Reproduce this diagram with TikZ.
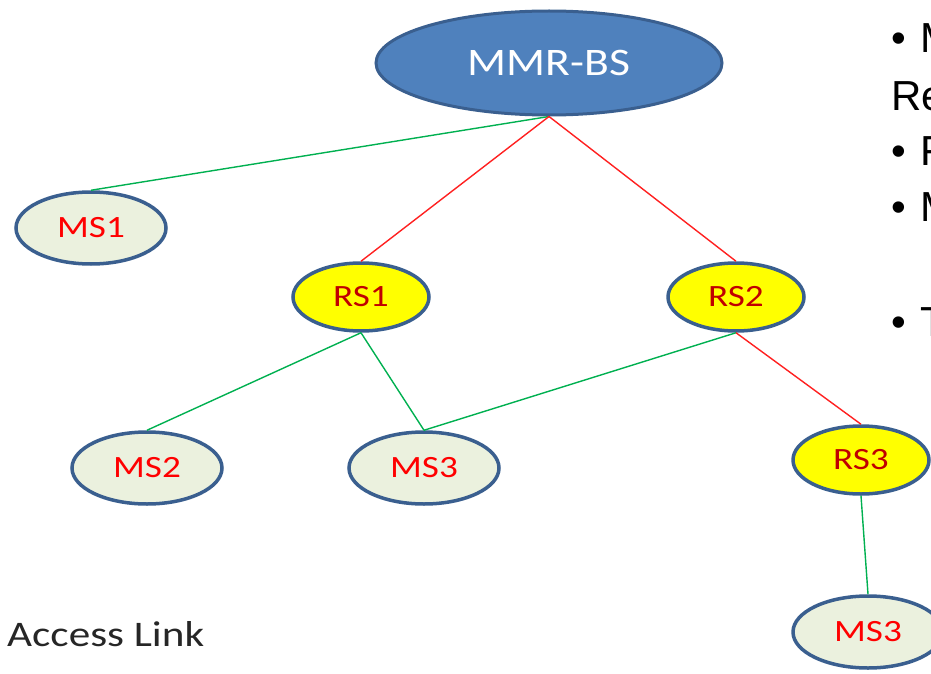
\documentclass[tikz,border=0pt]{standalone}
\usepackage{fontspec}
\setmainfont{Carlito}[FakeStretch=1.2]
\newfontfamily\bsfont{Carlito}[FakeStretch=1.17]
\newfontfamily\arialf{Liberation Sans}
\usetikzlibrary{shapes.geometric}
\definecolor{bsfill}{HTML}{4F81BD}
\definecolor{bsedge}{HTML}{3A5F8F}
\definecolor{msfill}{HTML}{EBF1DE}
\definecolor{rsfill}{HTML}{FFFF00}
\definecolor{rstext}{HTML}{C00000}
\definecolor{lgreen}{HTML}{00B050}
\definecolor{lred}{HTML}{FF2020}
\tikzset{
  base/.style={ellipse, draw=bsedge, line width=3.5pt, inner sep=0pt},
  msnode/.style={base, fill=msfill, minimum width=150pt, minimum height=72pt, text=red, font=\fontsize{31}{33}\selectfont},
  rsnode/.style={base, fill=rsfill, minimum width=136pt, minimum height=68pt, text=rstext, font=\fontsize{31}{33}\selectfont},
  bsnode/.style={ellipse, draw=bsedge, line width=3pt, fill=bsfill, minimum width=346pt, minimum height=104pt, text=white, font=\bsfont\fontsize{39}{41}\selectfont},
  glink/.style={draw=lgreen, line width=1.4pt},
  rlink/.style={draw=lred, line width=1.4pt},
  bullettext/.style={anchor=west, inner sep=0pt, font=\arialf\fontsize{42}{44}\selectfont}
}
\begin{document}
\begin{tikzpicture}[x=1pt,y=-1pt]
\useasboundingbox (0,0) rectangle (931,674);
\clip (0,0) rectangle (931,674);
\node[bsnode] (bs) at (549,63) {MMR-BS};
\node[msnode] (ms1) at (91,228) {MS1};
\node[rsnode] (rs1) at (361,297) {RS1};
\node[rsnode] (rs2) at (736,297) {RS2};
\node[msnode] (ms2) at (147,468) {MS2};
\node[msnode] (ms3) at (424,468) {MS3};
\node[rsnode] (rs3) at (861,460) {RS3};
\node[msnode] (ms3b) at (868,632) {MS3};
\draw[glink] (bs.south) -- (ms1.north);
\draw[rlink] (bs.south) -- (rs1.north);
\draw[rlink] (bs.south) -- (rs2.north);
\draw[glink] (rs1.south) -- (ms2.north);
\draw[glink] (rs1.south) -- (ms3.north);
\draw[glink] (rs2.south) -- (ms3.north);
\draw[rlink] (rs2.south) -- (rs3.north);
\draw[glink] (rs3.south) -- (ms3b.north);
\node[anchor=west, inner sep=0pt, text=black!85, font=\fontsize{36}{38}\selectfont] (al) at (7,634) {Access Link};
\node[bullettext] (t1) at (891,38) {• \hspace{3pt}M};
\node[bullettext] (t2) at (891,96) {Re};
\node[bullettext] (t3) at (891,151) {• \hspace{3pt}F};
\node[bullettext] (t4) at (891,207) {• \hspace{3pt}M};
\node[bullettext] (t5) at (891,322) {• \hspace{3pt}T};
\end{tikzpicture}
\end{document}
